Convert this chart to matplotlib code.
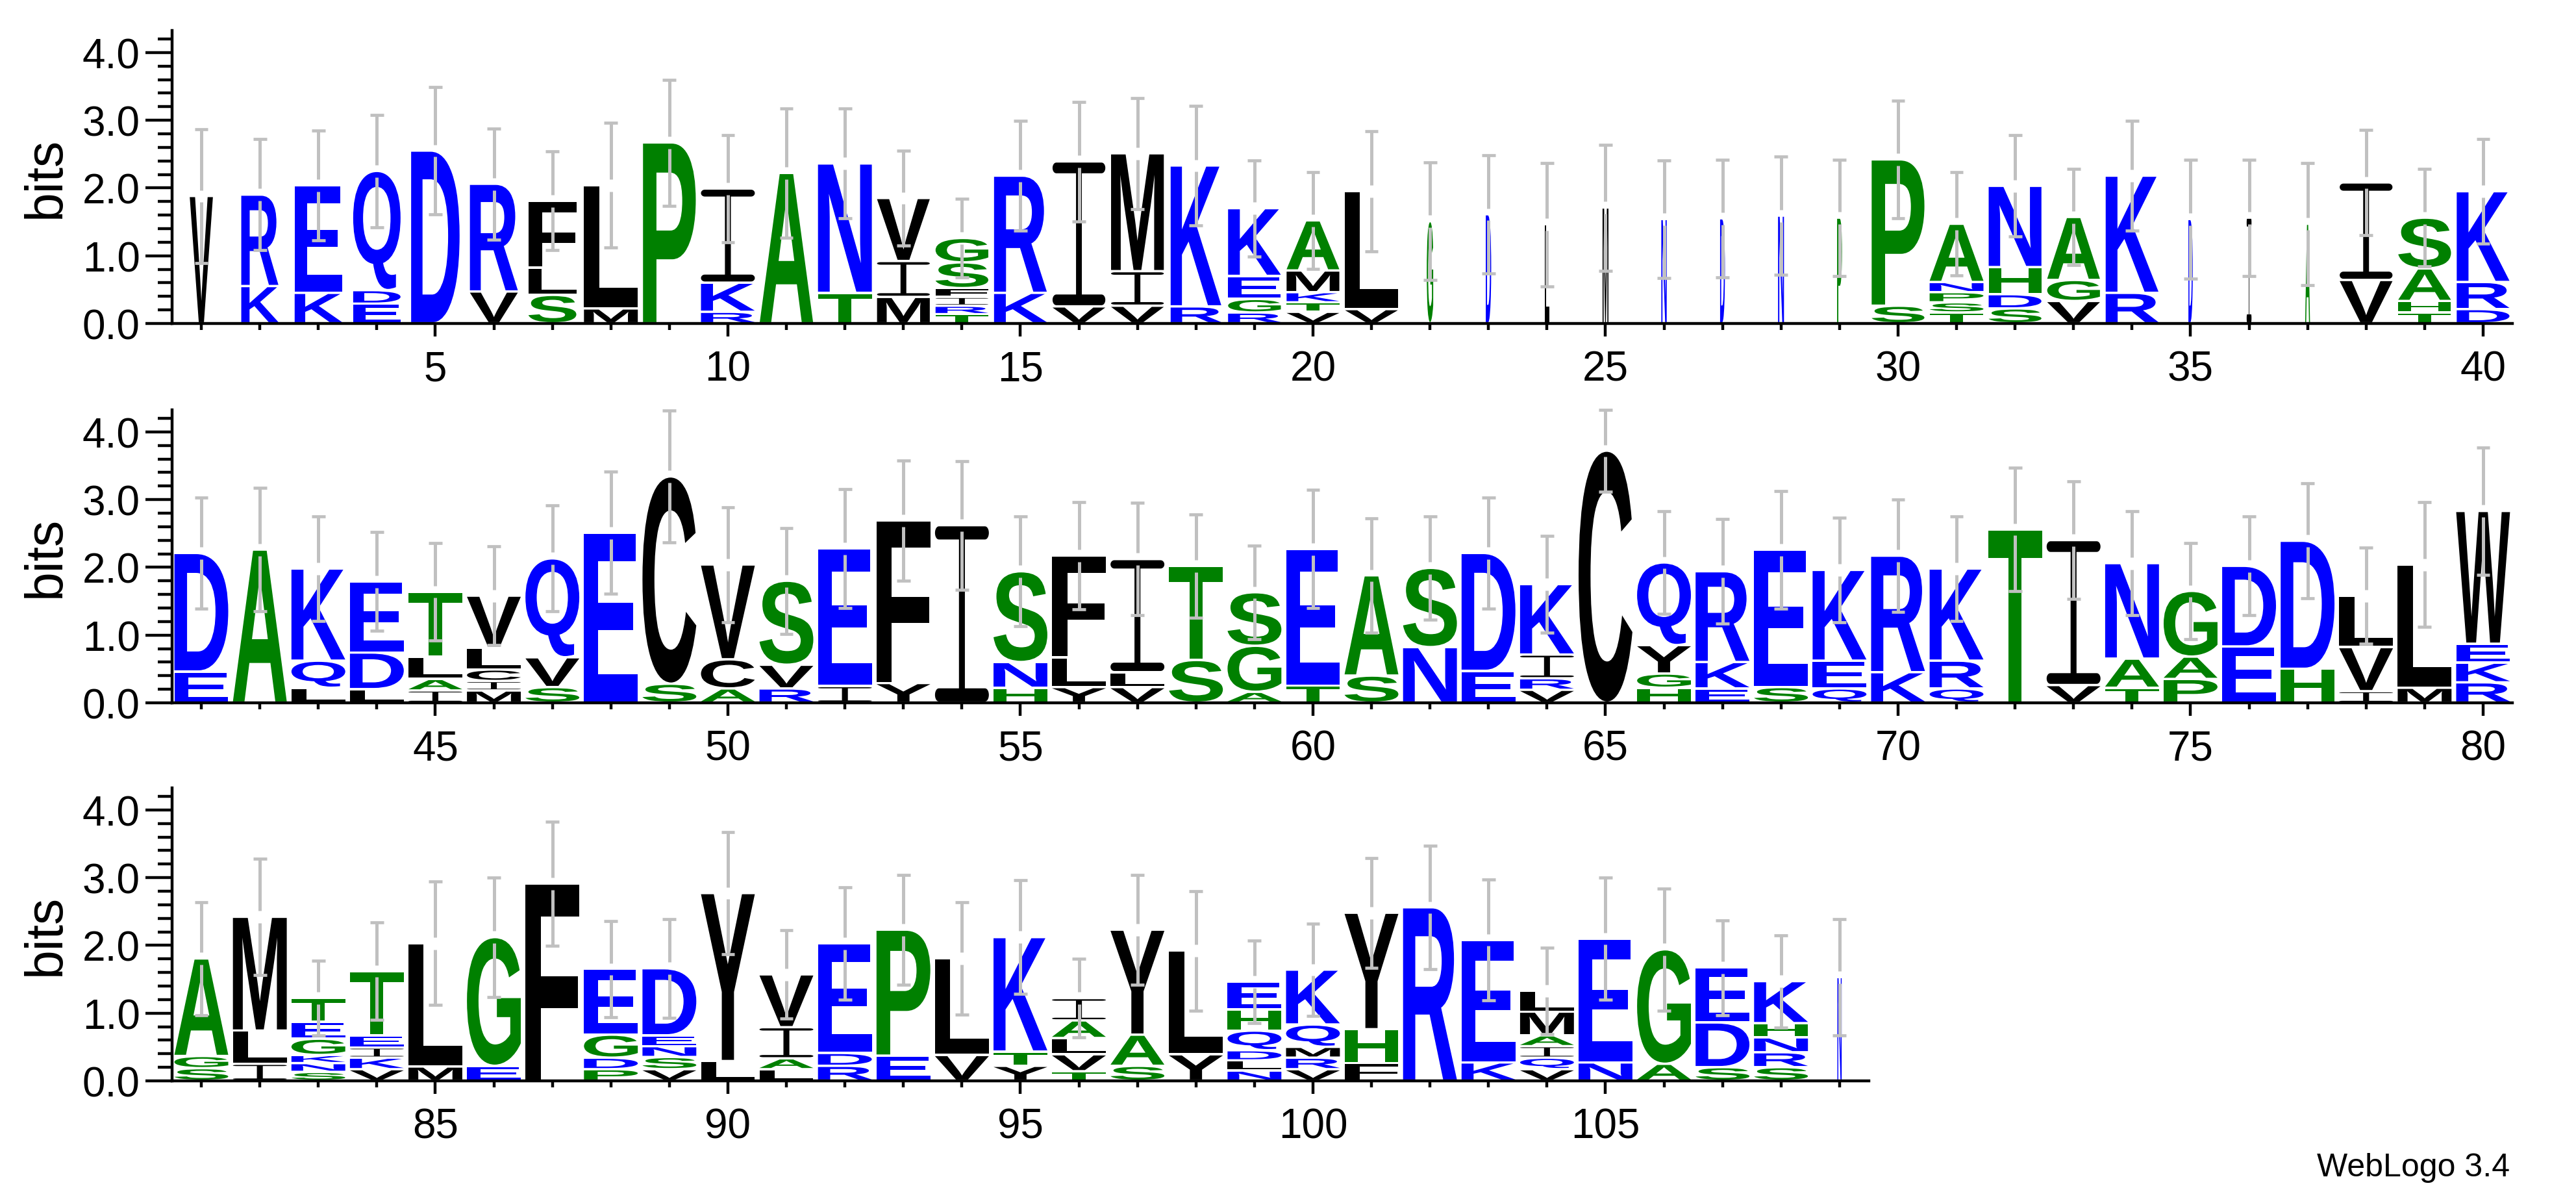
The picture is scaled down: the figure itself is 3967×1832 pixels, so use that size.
import numpy as np
import matplotlib
matplotlib.use("Agg")
import matplotlib.pyplot as plt
from matplotlib.textpath import TextPath
from matplotlib.patches import PathPatch
from matplotlib.path import Path
from matplotlib.font_manager import FontProperties
from matplotlib.transforms import Affine2D

plt.rcParams["font.family"] = ["Liberation Sans", "DejaVu Sans"]

# ---------------------------------------------------------------------------
# Data: letters per column (bottom -> top), their heights in bits,
# top of the error bar (bits) and relative stack width (gapped columns are thin)
# ---------------------------------------------------------------------------
LETTERS = [
    "V", "KR", "KE", "EDQ", "D", "VR", "SLF", "ML", "P", "RKI",
    "A", "TN", "MIV", "TRIFSG", "KR", "VI", "VIM", "RK", "RGEK", "VTKMA",
    "VL", "G", "D", "L", "M", "N", "D", "N", "P", "SP",
    "TSPNA", "SDHN", "VGA", "RK", "D", "I", "A", "VI", "THAS", "DRK",
    "ED", "A", "LQK", "LDE", "IALT", "MICLV", "SVQ", "E", "SC", "ACV",
    "RVS", "IE", "YF", "I", "HNS", "YLF", "VLI", "ST", "AGS", "TE",
    "SA", "NS", "ED", "VRIK", "C", "HGYQ", "EKR", "SE", "QEK", "KR",
    "QRK", "T", "VI", "TAN", "PAG", "ED", "HD", "IVL", "ML", "RKEW",
    "SGA", "ILM", "SNKGET", "VKIET", "ML", "EG", "F", "PDGE", "VSNED", "LY",
    "LAIV", "RDE", "EP", "VL", "YTK", "TVLAI", "SAY", "YL", "NLDQHE", "VRMQK",
    "FHY", "R", "KE", "VQIAML", "NE", "AG", "SDE", "SRNHK", "N",
]

HEIGHTS = [
    [1.88], [0.55, 1.35], [0.45, 1.59], [0.29, 0.20, 1.76], [2.55],
    [0.47, 1.59], [0.42, 0.40, 0.99], [0.22, 1.82], [2.67], [0.17, 0.43, 1.39],
    [2.22], [0.45, 1.91], [0.39, 0.53, 0.93], [0.135, 0.125, 0.13, 0.13, 0.38, 0.36],
    [0.45, 1.73], [0.25, 2.14], [0.26, 0.51, 1.74], [0.25, 2.08],
    [0.16, 0.20, 0.34, 1.00], [0.17, 0.14, 0.15, 0.32, 0.74],
    [0.21, 1.74], [1.51], [1.61], [1.46], [1.71], [1.54], [1.55], [1.59], [1.56],
    [0.26, 2.16],
    [0.16, 0.15, 0.15, 0.15, 0.86], [0.22, 0.21, 0.40, 1.20], [0.33, 0.31, 0.93],
    [0.45, 1.73], [1.54], [1.56], [1.47], [0.64, 1.44], [0.16, 0.17, 0.48, 0.75],
    [0.21, 0.40, 1.34],
    [0.46, 1.75], [2.26], [0.22, 0.40, 1.36], [0.20, 0.54, 1.05],
    [0.18, 0.17, 0.33, 0.96], [0.18, 0.14, 0.17, 0.32, 0.77], [0.23, 0.44, 1.46],
    [2.51], [0.28, 3.06], [0.21, 0.43, 1.40],
    [0.21, 0.35, 1.24], [0.245, 2.03], [0.29, 2.40], [2.62], [0.22, 0.38, 1.34],
    [0.23, 0.44, 1.50], [0.23, 0.22, 1.67], [0.63, 1.39], [0.16, 0.68, 0.79],
    [0.25, 2.02],
    [0.40, 1.48], [0.82, 1.17], [0.47, 1.74], [0.19, 0.17, 0.35, 1.04], [3.72],
    [0.22, 0.21, 0.42, 1.22], [0.21, 0.39, 1.34], [0.23, 2.03], [0.21, 0.41, 1.34],
    [0.45, 1.72],
    [0.21, 0.41, 1.36], [2.56], [0.26, 2.14], [0.22, 0.43, 1.41], [0.35, 0.33, 0.97],
    [0.83, 1.19], [0.50, 1.89], [0.17, 0.65, 0.76], [0.22, 1.82],
    [0.30, 0.29, 0.28, 1.96],
    [0.185, 0.18, 1.44], [0.25, 0.49, 1.68], [0.13, 0.13, 0.12, 0.24, 0.25, 0.35],
    [0.17, 0.17, 0.15, 0.18, 0.95], [0.21, 1.82], [0.22, 1.90], [2.91],
    [0.17, 0.17, 0.34, 0.97], [0.17, 0.18, 0.16, 0.16, 0.99], [0.29, 2.48],
    [0.17, 0.16, 0.46, 0.78], [0.22, 0.19, 1.62], [0.37, 1.86], [0.38, 1.43],
    [0.22, 0.21, 1.69], [0.14, 0.25, 0.24, 0.26, 0.33], [0.22, 0.46, 1.55],
    [0.39, 1.53], [0.15, 0.15, 0.15, 0.29, 0.31, 0.41], [0.17, 0.17, 0.16, 0.33, 0.81],
    [0.26, 0.50, 1.72], [2.56], [0.27, 1.81], [0.17, 0.17, 0.17, 0.16, 0.35, 0.31],
    [0.27, 1.83], [0.25, 1.69], [0.20, 0.66, 0.81], [0.20, 0.22, 0.22, 0.21, 0.62],
    [1.53],
]

ERR_TOP = [
    2.87, 2.72, 2.85, 3.08, 3.49, 2.88, 2.54, 2.96, 3.60, 2.78,
    3.17, 3.17, 2.55, 1.84, 2.99, 3.27, 3.33, 3.21, 2.41, 2.23,
    2.84, 2.38, 2.48, 2.37, 2.64, 2.41, 2.42, 2.46, 2.42, 3.29,
    2.23, 2.78, 2.28, 2.99, 2.42, 2.42, 2.37, 2.86, 2.28, 2.72,
    3.03, 3.17, 2.75, 2.52, 2.36, 2.31, 2.91, 3.41, 4.31, 2.89,
    2.58, 3.15, 3.58, 3.57, 2.75, 2.96, 2.95, 2.78, 2.32, 3.14,
    2.72, 2.75, 3.03, 2.46, 4.32, 2.83, 2.71, 3.13, 2.73, 3.00,
    2.75, 3.47, 3.27, 2.83, 2.36, 2.75, 3.24, 2.29, 2.96, 3.77,
    2.64, 3.28, 1.77, 2.34, 2.94, 3.00, 3.83, 2.36, 2.39, 3.67,
    2.22, 2.86, 3.04, 2.64, 2.96, 1.80, 3.04, 2.80, 2.07, 2.32,
    3.29, 3.47, 2.97, 1.97, 3.00, 2.84, 2.37, 2.15, 2.39,
]

WIDTHS = [
    0.43, 0.69, 0.88, 0.88, 0.90, 0.89, 0.89, 1.0, 0.98, 1.0,
    0.99, 1.0, 0.98, 0.98, 0.98, 0.98, 0.98, 0.94, 0.98, 0.98,
    0.98, 0.12, 0.10, 0.08, 0.11, 0.10, 0.09, 0.11, 0.09, 0.98,
    1.0, 0.98, 0.98, 0.98, 0.08, 0.09, 0.09, 0.98, 0.98, 0.98,
] + [1.0] * 68 + [0.08]

ROWS = [(1, 40), (41, 80), (81, 109)]

# hydrophobicity colour scheme
COLORS = {}
for c in "RKDENQ":
    COLORS[c] = "#0000ff"
for c in "SGHTAP":
    COLORS[c] = "#008000"
for c in "YVMCLFIW":
    COLORS[c] = "#000000"

# ---------------------------------------------------------------------------
# Layout (pixels of the 3967 x 1833 output)
# ---------------------------------------------------------------------------
FIG_W, FIG_H, DPI = 3967, 1833, 100
LEFT_PX = 265
POS_PX = 90.1
BIT_PX = 104.3
YMAX = 4.32
BASELINES = [499, 1083, 1665]
STACK_W = 0.92
GAP = 0.03
ERR_COLOR = "#c0c0c0"

GLYPH_FONT = FontProperties(family="Liberation Sans", weight="bold")
_glyphs = {}


def rounded_bar(y0, y1, r=0.07, n=12):
    # horizontal bar across the unit width with elliptic ends
    ry = (y1 - y0) / 2
    yc = (y0 + y1) / 2
    t = np.linspace(np.pi / 2, 3 * np.pi / 2, n)
    left = np.column_stack([r + r * np.cos(t), yc + ry * np.sin(t)])
    t = np.linspace(-np.pi / 2, np.pi / 2, n)
    right = np.column_stack([1 - r + r * np.cos(t), yc + ry * np.sin(t)])
    return np.vstack([left, right, left[:1]])


def i_beam_path():
    # the "I" of the logo: thin stem with a bar at top and bottom
    t = 0.075
    s0, s1 = 0.445, 0.555
    stem = np.array([[s0, t], [s1, t], [s1, 1 - t], [s0, 1 - t], [s0, t]])
    polys = [rounded_bar(0, t), stem, rounded_bar(1 - t, 1)]
    verts, codes = [], []
    for p in polys:
        verts.extend(p.tolist())
        codes.extend([Path.MOVETO] + [Path.LINETO] * (len(p) - 2) + [Path.CLOSEPOLY])
    return Path(verts, codes)


def glyph(letter):
    if letter not in _glyphs:
        if letter == "I":
            path = i_beam_path()
        else:
            path = TextPath((0, 0), letter, size=100, prop=GLYPH_FONT)
        _glyphs[letter] = (path, path.get_extents())
    return _glyphs[letter]


def draw_letter(ax, letter, x0, x1, y0, y1):
    path, ext = glyph(letter)
    tr = (Affine2D()
          .translate(-ext.x0, -ext.y0)
          .scale((x1 - x0) / ext.width, (y1 - y0) / ext.height)
          .translate(x0, y0))
    ax.add_patch(PathPatch(tr.transform_path(path), facecolor=COLORS[letter],
                           edgecolor="none", lw=0, zorder=2))


fig = plt.figure(figsize=(FIG_W / DPI, FIG_H / DPI), dpi=DPI)

for (first, last), base in zip(ROWS, BASELINES):
    n = last - first + 1
    ax = fig.add_axes([LEFT_PX / FIG_W, (FIG_H - base) / FIG_H,
                       n * POS_PX / FIG_W, YMAX * BIT_PX / FIG_H])
    ax.set_xlim(first - 0.5, last + 0.5)
    ax.set_ylim(0, YMAX)

    for pos in range(first, last + 1):
        i = pos - 1
        w = STACK_W * WIDTHS[i]
        x0, x1 = pos - w / 2, pos + w / 2
        cum = 0.0
        for letter, h in zip(LETTERS[i], HEIGHTS[i]):
            draw_letter(ax, letter, x0, x1, cum + GAP / 2 + 0.005, cum + h - GAP / 2)
            cum += h
        top = cum
        err = ERR_TOP[i] - top
        g = 0.09
        ax.vlines(pos, top - err, top - g, color=ERR_COLOR, lw=3.6, zorder=3, clip_on=False)
        ax.vlines(pos, top + g, top + err, color=ERR_COLOR, lw=3.6, zorder=3, clip_on=False)
        ax.hlines([top - err, top + err], pos - 0.115, pos + 0.115, color=ERR_COLOR,
                  lw=3.4, zorder=3, clip_on=False)

    for side in ("top", "right"):
        ax.spines[side].set_visible(False)
    for side in ("left", "bottom"):
        ax.spines[side].set_linewidth(3.2)

    ax.set_yticks([0, 1, 2, 3, 4])
    ax.set_yticklabels(["0.0", "1.0", "2.0", "3.0", "4.0"])
    ax.set_yticks(np.arange(0, 4.3, 0.2), minor=True)
    major_x = [p for p in range(first, last + 1) if p % 5 == 0]
    ax.set_xticks(major_x)
    ax.set_xticklabels([str(p) for p in major_x])
    ax.set_xticks(range(first, last + 1), minor=True)

    ax.tick_params(axis="y", which="major", length=29.5, width=3.2, pad=6, labelsize=46)
    ax.tick_params(axis="y", which="minor", length=16, width=3.2)
    ax.tick_params(axis="x", which="major", length=14.4, width=3.2, pad=15, labelsize=46)
    ax.tick_params(axis="x", which="minor", length=7.5, width=3.2)

    fig.text(71 / FIG_W, (FIG_H - base + YMAX * BIT_PX / 2) / FIG_H, "bits",
             rotation=90, ha="center", va="center", fontsize=58)

fig.text(3865 / FIG_W, 1 - 1811 / FIG_H, "WebLogo 3.4", ha="right", va="baseline",
         fontsize=36)

fig.savefig("out.png", dpi=DPI, facecolor="white")
